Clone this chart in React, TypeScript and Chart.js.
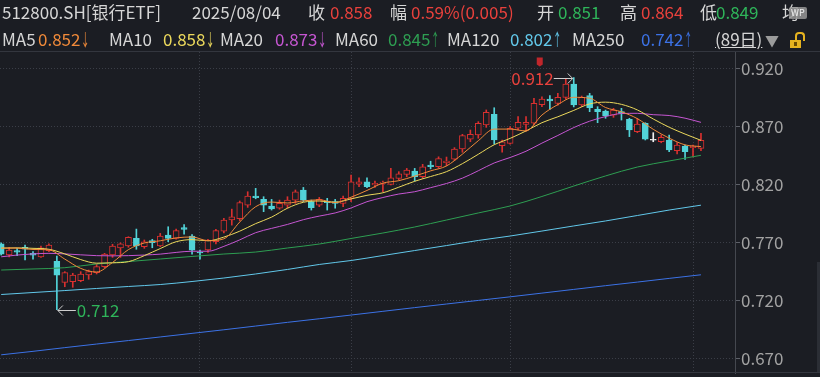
import React, { useEffect, useRef } from "react";
import { Chart, registerables } from "chart.js";

Chart.register(...registerables);

// ---- data ----
const opens = [
  0.7686, 0.7592, 0.7628, 0.7657, 0.7605, 0.7575, 0.7628, 0.7536, 0.7355, 0.736,
  0.7369, 0.7418, 0.7438, 0.749, 0.7592, 0.7651, 0.7668, 0.7734, 0.7662, 0.7714,
  0.7668, 0.7763, 0.7734, 0.7826, 0.7754, 0.7612, 0.7634, 0.7705, 0.7795, 0.7892,
  0.7904, 0.8021, 0.8098, 0.807, 0.8013, 0.7994, 0.8021, 0.8064, 0.8151, 0.805,
  0.8021, 0.8056, 0.805, 0.8036, 0.8079, 0.8201, 0.8221, 0.8194, 0.8208, 0.82,
  0.8251, 0.8286, 0.8314, 0.8265, 0.8366, 0.8352, 0.8386, 0.8416, 0.8504, 0.8588,
  0.8625, 0.8711, 0.8803, 0.8533, 0.8553, 0.8683, 0.8717, 0.8726, 0.8887, 0.8935,
  0.8898, 0.895, 0.9065, 0.8884, 0.8964, 0.8846, 0.8832, 0.8797, 0.8826, 0.876,
  0.8653, 0.8726, 0.858, 0.8567, 0.8582, 0.849, 0.853, 0.8515, 0.851,
];
const highs = [
  0.7695, 0.7655, 0.7648, 0.7677, 0.7619, 0.7668, 0.7686, 0.7582, 0.7447, 0.7433,
  0.7447, 0.7461, 0.751, 0.7605, 0.7683, 0.7695, 0.7748, 0.7814, 0.772, 0.7726,
  0.7777, 0.7834, 0.7814, 0.7852, 0.7766, 0.7634, 0.7726, 0.7812, 0.7906, 0.7986,
  0.8056, 0.8136, 0.8165, 0.8093, 0.807, 0.8064, 0.8093, 0.8151, 0.8173, 0.8064,
  0.8087, 0.8079, 0.807, 0.8099, 0.828, 0.8256, 0.8256, 0.8228, 0.8228, 0.8337,
  0.8309, 0.8337, 0.8337, 0.8372, 0.8399, 0.8437, 0.8435, 0.8516, 0.8631, 0.8668,
  0.874, 0.8841, 0.886, 0.8582, 0.8697, 0.8783, 0.8783, 0.8941, 0.8955, 0.8964,
  0.8984, 0.9105, 0.912, 0.8961, 0.8984, 0.8869, 0.884, 0.8855, 0.8855, 0.8769,
  0.8769, 0.8731, 0.8645, 0.8625, 0.8625, 0.8559, 0.8539, 0.8538, 0.864,
];
const lows = [
  0.759, 0.7575, 0.7585, 0.7548, 0.7555, 0.757, 0.7619, 0.712, 0.7317, 0.7312,
  0.736, 0.7381, 0.7427, 0.7481, 0.757, 0.757, 0.7657, 0.764, 0.7648, 0.7653,
  0.7662, 0.7705, 0.7726, 0.7771, 0.7597, 0.7554, 0.7612, 0.7685, 0.778, 0.7848,
  0.7886, 0.8001, 0.8075, 0.7964, 0.7978, 0.7985, 0.7994, 0.8036, 0.805, 0.7978,
  0.8007, 0.7978, 0.7994, 0.8007, 0.805, 0.8179, 0.817, 0.8174, 0.8136, 0.8194,
  0.8237, 0.8265, 0.8228, 0.8251, 0.8333, 0.8337, 0.836, 0.8404, 0.8476, 0.8567,
  0.8597, 0.8691, 0.8547, 0.8476, 0.8545, 0.8668, 0.8657, 0.8711, 0.8869, 0.8846,
  0.8883, 0.8933, 0.8867, 0.8869, 0.8826, 0.8731, 0.8769, 0.8777, 0.8754, 0.8611,
  0.8645, 0.8582, 0.8567, 0.8558, 0.8481, 0.8461, 0.8415, 0.8436, 0.849,
];
const closes = [
  0.7598, 0.7632, 0.7614, 0.764, 0.759, 0.7653, 0.7677, 0.7416, 0.7438, 0.7418,
  0.7427, 0.7447, 0.749, 0.7599, 0.7668, 0.7686, 0.7743, 0.7668, 0.7705, 0.7697,
  0.7754, 0.7734, 0.78, 0.7812, 0.7632, 0.7608, 0.772, 0.78, 0.7892, 0.792,
  0.8042, 0.8098, 0.8085, 0.8021, 0.7987, 0.8036, 0.8064, 0.8136, 0.8064, 0.7998,
  0.807, 0.8041, 0.8036, 0.8079, 0.8221, 0.8221, 0.8179, 0.8209, 0.822, 0.8256,
  0.8291, 0.8323, 0.8265, 0.8351, 0.8352, 0.8422, 0.8401, 0.8504, 0.8619, 0.8631,
  0.8726, 0.8821, 0.8582, 0.8567, 0.8683, 0.8735, 0.8735, 0.8898, 0.8935, 0.8918,
  0.895, 0.9065, 0.8884, 0.895, 0.886, 0.8826, 0.8789, 0.884, 0.8812, 0.8668,
  0.872, 0.8588, 0.858, 0.8605, 0.8496, 0.8539, 0.8481, 0.853, 0.858,
];

const monthStartIdx = [25, 44, 64, 87];
const yTickValues = [0.67, 0.72, 0.77, 0.82, 0.87, 0.92];

const maShortIdx = [
  0, 2, 4, 6, 8, 10, 12, 14, 16, 18, 20, 22, 24, 26, 28, 30, 32, 34, 36, 38, 40, 42, 44,
  46, 48, 50, 52, 54, 56, 58, 60, 62, 64, 66, 68, 70, 72, 74, 76, 78, 80, 82, 84, 86, 88,
];
const ma5 = [
  0.765, 0.765, 0.7638, 0.7635, 0.7555, 0.7475, 0.7444, 0.7526, 0.7637, 0.7694, 0.7713,
  0.7738, 0.7746, 0.7714, 0.773, 0.7875, 0.8007, 0.8047, 0.8039, 0.8057, 0.8066, 0.8042,
  0.8089, 0.8147, 0.821, 0.8231, 0.8271, 0.8316, 0.8358, 0.846, 0.8576, 0.8676, 0.8676,
  0.866, 0.8797, 0.8887, 0.895, 0.8942, 0.8862, 0.8825, 0.8766, 0.8674, 0.8598, 0.854,
  0.8525,
];
const ma10 = [
  0.765, 0.7652, 0.7648, 0.764, 0.76, 0.7551, 0.752, 0.7523, 0.7533, 0.7585, 0.7646,
  0.7705, 0.7723, 0.7713, 0.7745, 0.7796, 0.7861, 0.7917, 0.7994, 0.8045, 0.8056, 0.8045,
  0.8074, 0.8105, 0.8127, 0.8175, 0.8226, 0.8267, 0.8309, 0.8378, 0.8459, 0.8541, 0.8596,
  0.866, 0.8731, 0.8782, 0.8837, 0.8893, 0.8908, 0.8889, 0.8841, 0.8763, 0.8692, 0.8633,
  0.8579,
];
const ma20 = [
  0.7575, 0.759, 0.76, 0.7605, 0.76, 0.7592, 0.7585, 0.7583, 0.7585, 0.759, 0.7598,
  0.7613, 0.7623, 0.7623, 0.7665, 0.7721, 0.7783, 0.782, 0.7854, 0.7895, 0.7926, 0.7953,
  0.7996, 0.805, 0.8086, 0.8116, 0.8136, 0.8171, 0.8207, 0.8253, 0.8317, 0.8384, 0.8431,
  0.8485, 0.8555, 0.8621, 0.8689, 0.8744, 0.8784, 0.881, 0.8812, 0.88, 0.8793, 0.877,
  0.8734,
];
const maLongIdx = [0, 4, 8, 12, 16, 20, 24, 28, 32, 36, 40, 44, 48, 52, 56, 60, 64, 68, 72, 76, 80, 84, 88];
const ma60 = [
  0.7461, 0.747, 0.7481, 0.7513, 0.7534, 0.7556, 0.7578, 0.7599, 0.7616, 0.7651, 0.7685,
  0.7733, 0.778, 0.7832, 0.7892, 0.7953, 0.8013, 0.8095, 0.8185, 0.8272, 0.8349, 0.8401,
  0.845,
];
const ma120 = [
  0.725, 0.7267, 0.7284, 0.7302, 0.7319, 0.7336, 0.7362, 0.7392, 0.7427, 0.7466, 0.7509,
  0.7543, 0.7586, 0.7629, 0.7672, 0.7716, 0.7754, 0.7797, 0.7841, 0.7884, 0.7931, 0.7978,
  0.802,
];
const ma250 = [
  0.673, 0.676, 0.6792, 0.6823, 0.6853, 0.6884, 0.6915, 0.6946, 0.6978, 0.701, 0.7041,
  0.7073, 0.7105, 0.7137, 0.7168, 0.7199, 0.723, 0.7262, 0.7294, 0.7326, 0.7357, 0.7389,
  0.742,
];

// ---- styles ----
const BG = "#1b1d23";
const RED = "#e8413c";
const CANDLE_RED = "#d9302f";
const CYAN = "#52d3d8";
const GREEN = "#2fb55a";
const WHITE_TXT = "#d6d6d6";
const GRID = "#3b3e47";
const FONT = '"Noto Sans CJK SC", "Noto Sans", sans-serif';

const MA_COLORS = {
  ma5: "#f08a3a",
  ma10: "#ecd95c",
  ma20: "#c656d2",
  ma60: "#2e9e52",
  ma120: "#62c8ea",
  ma250: "#3c72e6",
};

function candleColor(i: number) {
  if (closes[i] > opens[i]) return CANDLE_RED;
  if (closes[i] < opens[i]) return CYAN;
  return "#f2f2f2";
}

const extremesPlugin = {
  id: "extremes",
  afterDatasetsDraw(chart: any) {
    const { ctx } = chart;
    const xs = chart.scales.x;
    const ys = chart.scales.y;
    let hi = 0;
    let lo = 0;
    highs.forEach((v, i) => {
      if (v > highs[hi]) hi = i;
    });
    lows.forEach((v, i) => {
      if (v < lows[lo]) lo = i;
    });
    ctx.save();
    ctx.font = `17px ${FONT}`;
    ctx.textBaseline = "middle";
    ctx.strokeStyle = "#cfcfcf";
    ctx.lineWidth = 1;
    // highest
    const hx = xs.getPixelForValue(hi);
    const hy = Math.round(ys.getPixelForValue(highs[hi])) + 0.5;
    ctx.beginPath();
    ctx.moveTo(hx - 20, hy);
    ctx.lineTo(hx - 1, hy);
    ctx.moveTo(hx - 6, hy - 5);
    ctx.lineTo(hx - 1, hy);
    ctx.lineTo(hx - 6, hy + 5);
    ctx.stroke();
    ctx.fillStyle = RED;
    ctx.textAlign = "right";
    ctx.fillText(highs[hi].toFixed(3), hx - 20, hy);
    // small red event flag above the high label
    ctx.fillStyle = "#c0262b";
    ctx.beginPath();
    ctx.moveTo(hx - 37, hy - 21);
    ctx.lineTo(hx - 31, hy - 21);
    ctx.lineTo(hx - 31, hy - 14);
    ctx.lineTo(hx - 34, hy - 12);
    ctx.lineTo(hx - 37, hy - 14);
    ctx.closePath();
    ctx.fill();
    // lowest
    const lx = xs.getPixelForValue(lo);
    const ly = Math.round(ys.getPixelForValue(lows[lo])) + 0.5;
    ctx.beginPath();
    ctx.moveTo(lx + 1, ly);
    ctx.lineTo(lx + 19, ly);
    ctx.moveTo(lx + 6, ly - 5);
    ctx.lineTo(lx + 1, ly);
    ctx.lineTo(lx + 6, ly + 5);
    ctx.stroke();
    ctx.fillStyle = GREEN;
    ctx.textAlign = "left";
    ctx.fillText(lows[lo].toFixed(3), lx + 20, ly);
    ctx.restore();
  },
};

function lineDs(label: string, idx: number[], vals: number[], color: string) {
  return {
    type: "line" as const,
    label,
    data: idx.map((x, k) => ({ x, y: vals[k] })),
    borderColor: color,
    borderWidth: 1,
    pointRadius: 0,
    cubicInterpolationMode: "monotone" as const,
    order: 0,
  };
}

function Arrow({ up }: { up: boolean }) {
  return (
    <span
      style={{
        display: "inline-block",
        width: 9,
        marginLeft: 1,
        transform: "scaleX(0.5)",
        transformOrigin: "0 50%",
      }}
    >
      {up ? "↑" : "↓"}
    </span>
  );
}

function Header() {
  const base: React.CSSProperties = {
    position: "absolute",
    whiteSpace: "nowrap",
    fontFamily: FONT,
    fontSize: 17,
    lineHeight: "20px",
  };
  const t = (left: number, top: number, color: string, text: React.ReactNode, extra: React.CSSProperties = {}) => (
    <span style={{ ...base, left, top, color, ...extra }}>{text}</span>
  );
  const r1 = 2;
  const r2 = 29;
  return (
    <>
      {t(2, r1, WHITE_TXT, "512800.SH[银行ETF]")}
      {t(192, r1, WHITE_TXT, "2025/08/04")}
      {t(308, r1, WHITE_TXT, "收")}
      {t(330, r1, RED, "0.858")}
      {t(390, r1, WHITE_TXT, "幅")}
      {t(411, r1, RED, "0.59%(0.005)")}
      {t(537, r1, WHITE_TXT, "开")}
      {t(558, r1, GREEN, "0.851")}
      {t(620, r1, WHITE_TXT, "高")}
      {t(641, r1, RED, "0.864")}
      {t(700, r1, WHITE_TXT, "低")}
      {t(716, r1, GREEN, "0.849")}
      {t(782, r1, WHITE_TXT, "均")}
      <span
        style={{
          ...base,
          left: 789,
          top: 7,
          fontSize: 9,
          lineHeight: "12px",
          padding: "0 2px",
          color: "#f0f0f0",
          background: "rgba(150,150,150,0.85)",
          borderRadius: 2,
        }}
      >
        WP
      </span>
      {t(2, r2, WHITE_TXT, "MA5")}
      {t(38, r2, MA_COLORS.ma5, <>0.852<Arrow up={false} /></>)}
      {t(109, r2, WHITE_TXT, "MA10")}
      {t(163, r2, MA_COLORS.ma10, <>0.858<Arrow up={false} /></>)}
      {t(220, r2, WHITE_TXT, "MA20")}
      {t(275, r2, MA_COLORS.ma20, <>0.873<Arrow up={false} /></>)}
      {t(335, r2, WHITE_TXT, "MA60")}
      {t(388, r2, MA_COLORS.ma60, <>0.845<Arrow up={true} /></>)}
      {t(447, r2, WHITE_TXT, "MA120")}
      {t(510, r2, MA_COLORS.ma120, <>0.802<Arrow up={true} /></>)}
      {t(572, r2, WHITE_TXT, "MA250")}
      {t(641, r2, MA_COLORS.ma250, <>0.742<Arrow up={true} /></>)}
      {t(715, r2, WHITE_TXT, "(89日)", { textDecoration: "underline" })}
      {t(765, r2 + 1, "#9b9b9b", "▼", { fontSize: 14 })}
      <div
        style={{
          position: "absolute",
          left: 795,
          top: 32,
          width: 6,
          height: 7,
          border: "2px solid #e5b21f",
          borderBottom: "none",
          borderRadius: "4px 4px 0 0",
        }}
      />
      <div style={{ position: "absolute", left: 790, top: 40, width: 11, height: 8, background: "#e5b21f" }}>
        <div style={{ position: "absolute", left: 4, top: 2, width: 3, height: 4, background: "#6b4b00" }} />
      </div>
      <div style={{ position: "absolute", left: 0, top: 51, width: 820, height: 1, background: "#33363e" }} />
    </>
  );
}

export default function App() {
  const ref = useRef<HTMLCanvasElement | null>(null);

  useEffect(() => {
    if (!ref.current) return;
    const idx = closes.map((_, i) => i);
    const colors = idx.map(candleColor);
    const chart = new Chart(ref.current, {
      type: "bar",
      data: {
        datasets: [
          lineDs("MA5", maShortIdx, ma5, MA_COLORS.ma5),
          lineDs("MA10", maShortIdx, ma10, MA_COLORS.ma10),
          lineDs("MA20", maShortIdx, ma20, MA_COLORS.ma20),
          lineDs("MA60", maLongIdx, ma60, MA_COLORS.ma60),
          lineDs("MA120", maLongIdx, ma120, MA_COLORS.ma120),
          lineDs("MA250", maLongIdx, ma250, MA_COLORS.ma250),
          {
            type: "bar",
            label: "body",
            data: idx.map((i) => ({ x: i, y: [opens[i], closes[i]] })) as any,
            backgroundColor: idx.map((i) => (closes[i] > opens[i] ? BG : colors[i])),
            borderColor: colors,
            borderWidth: 1,
            borderSkipped: false,
            barThickness: 6,
            minBarLength: 1,
            grouped: false,
            order: 1,
          } as any,
          {
            type: "bar",
            label: "wick",
            data: idx.map((i) => ({ x: i, y: [lows[i], highs[i]] })) as any,
            backgroundColor: colors,
            borderWidth: 0,
            barThickness: 1,
            grouped: false,
            order: 2,
          } as any,
        ],
      },
      options: {
        animation: false,
        responsive: false,
        devicePixelRatio: 1,
        layout: { padding: { top: 52, bottom: 4, left: 0, right: 0 } },
        plugins: { legend: { display: false }, tooltip: { enabled: false } },
        scales: {
          x: {
            type: "linear",
            min: -0.151,
            max: 92.28,
            offset: false,
            ticks: { display: false },
            grid: { color: GRID, drawTicks: false, offset: false },
            border: { display: false, dash: [1, 2] },
            afterBuildTicks: (scale: any) => {
              scale.ticks = monthStartIdx.map((v) => ({ value: v }));
            },
            afterFit: (scale: any) => {
              scale.height = 0;
              scale.paddingLeft = 0;
              scale.paddingRight = 0;
            },
          },
          y: {
            type: "linear",
            position: "right",
            min: 0.65733,
            max: 0.93405,
            afterBuildTicks: (scale: any) => {
              scale.ticks = yTickValues.map((v) => ({ value: v }));
            },
            afterFit: (scale: any) => {
              scale.width = 85;
              scale.paddingTop = 0;
              scale.paddingBottom = 0;
            },
            ticks: {
              color: "#a2a2a2",
              font: { family: FONT, size: 17 },
              padding: 1,
              callback: (v: any) => Number(v).toFixed(3),
            },
            grid: {
              color: GRID,
              drawTicks: true,
              tickLength: 5,
              tickColor: "#5d6068",
              tickBorderDash: [],
            },
            border: { display: true, color: "#45484f", width: 1, dash: [1, 2] },
          },
        },
      } as any,
      plugins: [extremesPlugin],
    });
    return () => chart.destroy();
  }, []);

  return (
    <div
      style={{
        position: "fixed",
        left: 0,
        top: 0,
        width: 820,
        height: 377,
        background: BG,
        overflow: "hidden",
      }}
    >
      <canvas ref={ref} width={820} height={377} style={{ position: "absolute", left: 0, top: 0 }} />
      <Header />
      <div style={{ position: "absolute", left: 0, top: 372, width: 820, height: 1, background: "#33363e" }} />
      <div style={{ position: "absolute", left: 817, top: 262, width: 3, height: 110, background: "#2b2e35" }} />
    </div>
  );
}
